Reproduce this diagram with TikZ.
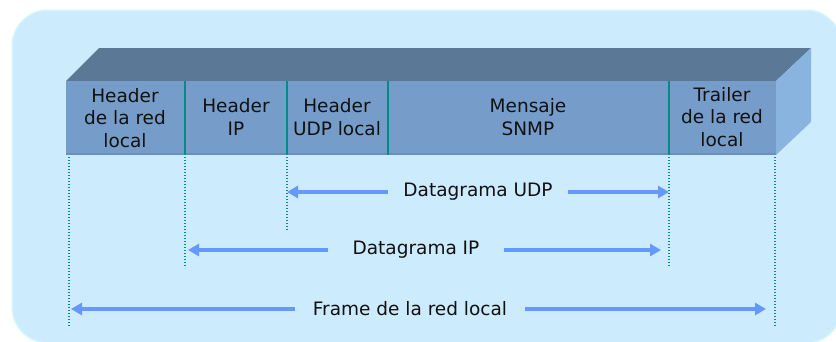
\documentclass[tikz,border=0pt]{standalone}
\usepackage{fontspec}
\setmainfont{DejaVu Sans}
\usetikzlibrary{arrows.meta}
\definecolor{bgfill}{HTML}{CCEBFC}
\definecolor{bgline}{HTML}{D9F6FA}
\definecolor{frontc}{HTML}{769DC9}
\definecolor{frontdark}{HTML}{6B8FBB}
\definecolor{topc}{HTML}{5B7896}
\definecolor{sidec}{HTML}{8AB4E0}
\definecolor{divc}{HTML}{008B8B}
\definecolor{arrc}{HTML}{6699FF}
\definecolor{txtc}{HTML}{111111}
\tikzset{
  lbl/.style={align=center, inner sep=0pt, text=txtc, font=\fontsize{18.5}{22.5}\selectfont},
  divider/.style={draw=divc, line width=1.6pt},
  guide/.style={draw=divc, line width=1.3pt, dash pattern=on 1.3pt off 1.7pt},
  arr/.style={draw=arrc, line width=4.5pt, -{Triangle[width=12pt,length=11pt]}},
}
\begin{document}
\begin{tikzpicture}[x=1pt,y=-1pt]
\useasboundingbox (0,0) rectangle (836,341);
% background
\filldraw[fill=bgfill, draw=bgline, line width=1.5pt, rounded corners=36pt] (12,10) rectangle (842,343);
% 3D bar
\fill[topc] (66,81) -- (99,48) -- (811,48) -- (776,81) -- cycle;
\fill[sidec] (776,81) -- (811,48) -- (811,122) -- (776,155) -- cycle;
\fill[frontc] (66,81) rectangle (776,155);
\draw[frontdark, line width=2pt] (66,154) -- (776,154);
% dividers
\foreach \x/\n in {185/d1,287/d2,388/d3,669/d4}{
  \coordinate (\n t) at (\x,81);
  \coordinate (\n b) at (\x,155);
  \draw[divider] (\n t) -- (\n b);
}
% cell labels
\node[lbl] (hlan) at (125,118) {Header\\de la red\\local};
\node[lbl] (hip) at (236,117) {Header\\IP};
\node[lbl] (hudp) at (337,117) {Header\\UDP local};
\node[lbl] (snmp) at (528,117) {Mensaje\\SNMP};
\node[lbl] (trl) at (722,117) {Trailer\\de la red\\local};
% guide lines
\coordinate (g0t) at (69,157);  \coordinate (g0b) at (69,327);
\coordinate (g1t) at (185,157); \coordinate (g1b) at (185,268);
\coordinate (g2t) at (287,157); \coordinate (g2b) at (287,230);
\coordinate (g3t) at (669,157); \coordinate (g3b) at (669,267);
\coordinate (g4t) at (775,157); \coordinate (g4b) at (775,327);
\foreach \n in {0,1,2,3,4}{\draw[guide] (g\n t) -- (g\n b);}
% arrows
\node[lbl] (udp) at (478,192) {Datagrama UDP};
\coordinate (udpL) at (287,192); \coordinate (udpLs) at (388,192);
\coordinate (udpR) at (669,192); \coordinate (udpRs) at (568,192);
\draw[arr] (udpLs) -- (udpL);
\draw[arr] (udpRs) -- (udpR);
\node[lbl] (ip) at (416,250) {Datagrama IP};
\coordinate (ipL) at (188,250); \coordinate (ipLs) at (328,250);
\coordinate (ipR) at (661,250); \coordinate (ipRs) at (504,250);
\draw[arr] (ipLs) -- (ipL);
\draw[arr] (ipRs) -- (ipR);
\node[lbl] (frm) at (410,309) {Frame de la red local};
\coordinate (frL) at (71,309); \coordinate (frLs) at (295,309);
\coordinate (frR) at (766,309); \coordinate (frRs) at (525,309);
\draw[arr] (frLs) -- (frL);
\draw[arr] (frRs) -- (frR);
\end{tikzpicture}
\end{document}
